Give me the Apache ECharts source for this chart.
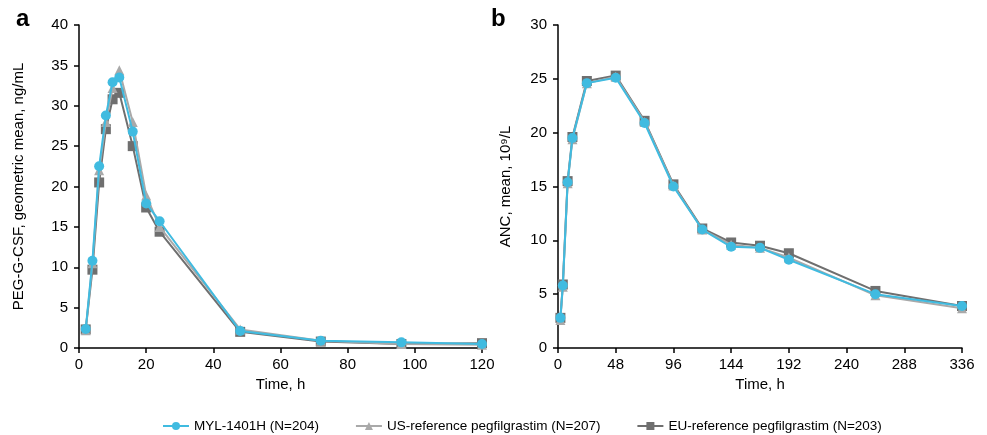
<!DOCTYPE html>
<html>
<head>
<meta charset="utf-8">
<script src="https://cdn.jsdelivr.net/npm/echarts@6/dist/echarts.min.js"></script>
<style>
  html, body { margin: 0; padding: 0; background: #fff; }
  #main { width: 987px; height: 435px; }
</style>
</head>
<body>
<div id="main"></div>
<script>
// panel a: PEG-G-CSF
var timeA = [2, 4, 6, 8, 10, 12, 16, 20, 24, 48, 72, 96, 120];
var mylA = [2.35, 10.8, 22.5, 28.8, 32.9, 33.5, 26.8, 17.9, 15.7, 2.1, 0.9, 0.7, 0.5];
var usA = [2.2, 10.5, 22.0, 28.0, 32.2, 34.4, 28.0, 18.9, 15.0, 2.3, 0.9, 0.5, 0.4];
var euA = [2.3, 9.7, 20.5, 27.1, 30.8, 31.6, 25.0, 17.4, 14.4, 2.0, 0.8, 0.5, 0.6];

// panel b: ANC
var timeB = [2, 4, 8, 12, 24, 48, 72, 96, 120, 144, 168, 192, 264, 336];
var mylB = [2.8, 5.8, 15.4, 19.5, 24.6, 25.1, 20.9, 15.0, 11.0, 9.4, 9.3, 8.2, 5.0, 3.9];
var usB = [2.6, 5.7, 15.3, 19.4, 24.6, 25.2, 21.0, 15.1, 11.0, 9.6, 9.3, 8.4, 4.9, 3.7];
var euB = [2.8, 5.9, 15.5, 19.6, 24.8, 25.3, 21.1, 15.2, 11.1, 9.8, 9.5, 8.8, 5.3, 3.9];

var names = ['MYL-1401H (N=204)', 'US-reference pegfilgrastim (N=207)', 'EU-reference pegfilgrastim (N=203)'];
var colors = ['#40bbe0', '#a9a9a9', '#6f6f6f'];
var symbols = ['circle', 'triangle', 'rect'];

function pairs(t, v) {
  return t.map(function (x, i) { return [x, v[i]]; });
}

var font = 'Liberation Sans, Arial, sans-serif';

function xAxis(idx, max, interval) {
  return {
    gridIndex: idx, type: 'value', min: 0, max: max, interval: interval,
    name: 'Time, h', nameLocation: 'middle', nameGap: 22,
    nameTextStyle: { color: '#000', fontSize: 15, fontFamily: font },
    axisLine: { show: true, lineStyle: { color: '#000', width: 1.5 } },
    axisTick: { show: true, length: 5, lineStyle: { color: '#000', width: 1.5 } },
    axisLabel: { color: '#000', fontSize: 15, fontFamily: font, margin: 9 },
    splitLine: { show: false }
  };
}

function yAxis(idx, max, interval, name, gap) {
  return {
    gridIndex: idx, type: 'value', min: 0, max: max, interval: interval,
    name: name, nameLocation: 'middle', nameGap: gap,
    nameTextStyle: { color: '#000', fontSize: 15, fontFamily: font },
    axisLine: { show: true, lineStyle: { color: '#000', width: 1.5 } },
    axisTick: { show: true, length: 5, lineStyle: { color: '#000', width: 1.5 } },
    axisLabel: { color: '#000', fontSize: 15, fontFamily: font, margin: 11 },
    splitLine: { show: false }
  };
}

function line(i, grid, data, z) {
  return {
    name: names[i], type: 'line', xAxisIndex: grid, yAxisIndex: grid,
    data: data, symbol: symbols[i], symbolSize: 10,
    showAllSymbol: true, z: z,
    lineStyle: { color: colors[i], width: 2 },
    itemStyle: { color: colors[i] },
    emphasis: { disabled: true }
  };
}

var chart = echarts.init(document.getElementById('main'));
chart.setOption({
  animation: false,
  textStyle: { fontFamily: font },
  title: [
    { text: 'a', left: 11, top: 2, textStyle: { fontSize: 24, fontWeight: 'bold', color: '#000', fontFamily: font } },
    { text: 'b', left: 486, top: 2, textStyle: { fontSize: 24, fontWeight: 'bold', color: '#000', fontFamily: font } }
  ],
  legend: {
    top: 419, left: 162, padding: 0, itemGap: 36, itemWidth: 26, itemHeight: 10,
    data: names,
    textStyle: { fontSize: 13.5, color: '#000', fontFamily: font }
  },
  grid: [
    { left: 79, right: 505, top: 25, bottom: 87 },
    { left: 558, right: 25, top: 25, bottom: 87 }
  ],
  xAxis: [xAxis(0, 120, 20), xAxis(1, 336, 48)],
  yAxis: [
    yAxis(0, 40, 5, 'PEG-G-CSF, geometric mean, ng/mL', 53),
    yAxis(1, 30, 5, 'ANC, mean, 10\u2079/L', 45)
  ],
  series: [
    line(2, 0, pairs(timeA, euA), 2),
    line(1, 0, pairs(timeA, usA), 3),
    line(0, 0, pairs(timeA, mylA), 4),
    line(2, 1, pairs(timeB, euB), 2),
    line(1, 1, pairs(timeB, usB), 3),
    line(0, 1, pairs(timeB, mylB), 4)
  ]
});
</script>
</body>
</html>
